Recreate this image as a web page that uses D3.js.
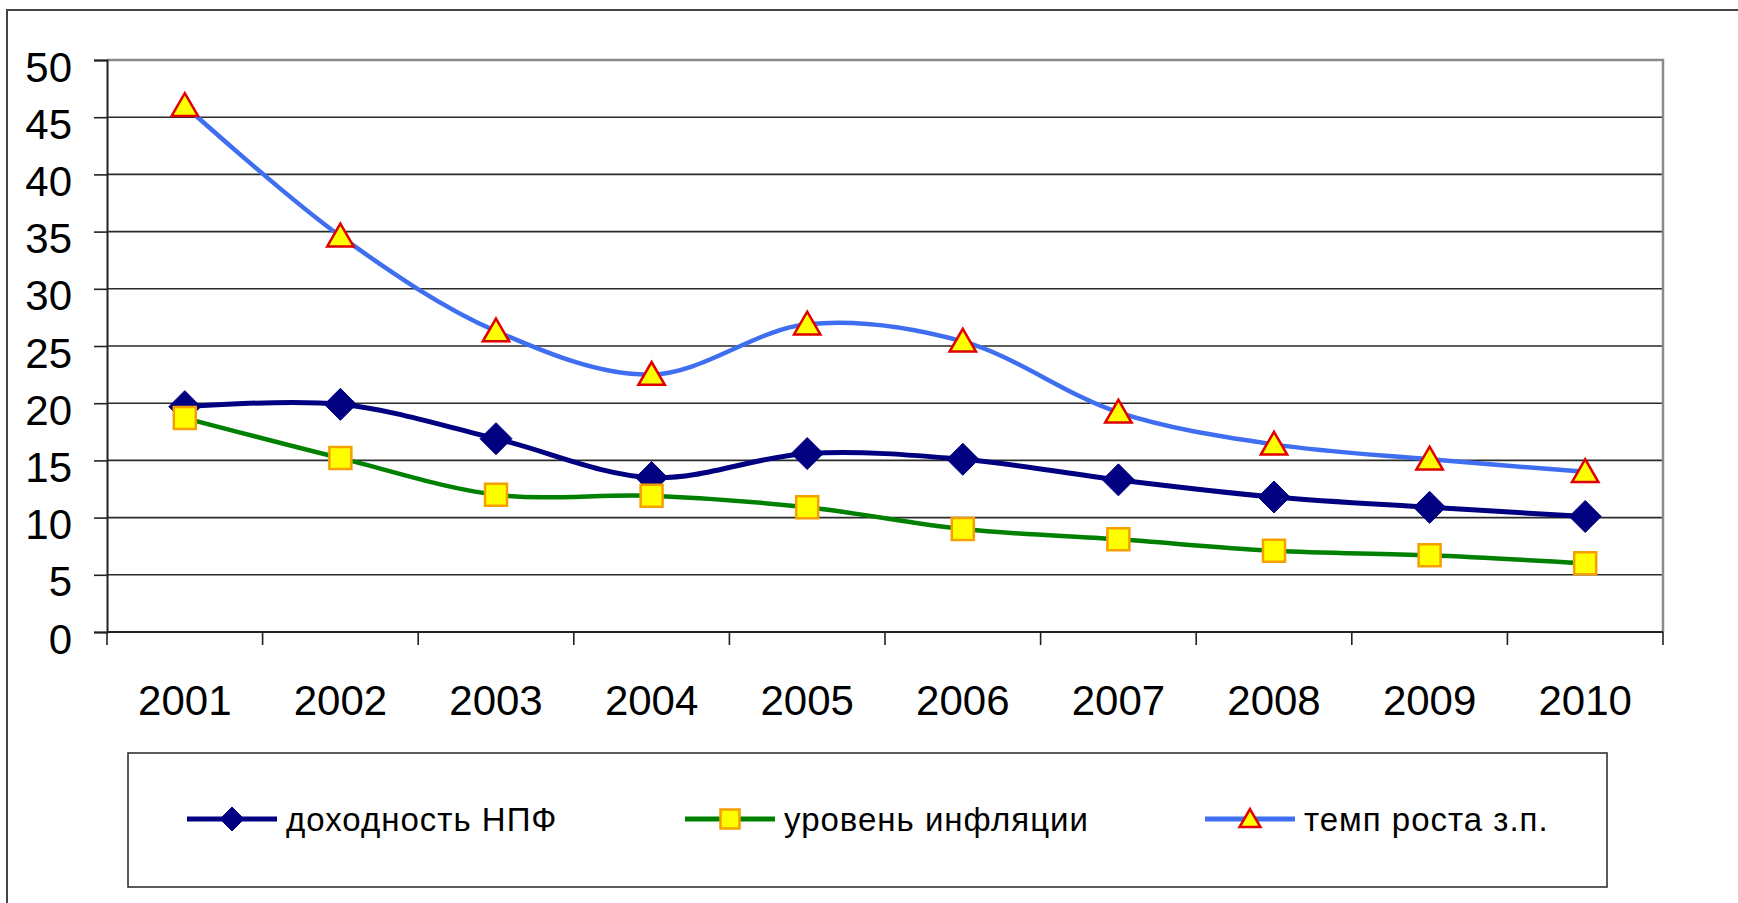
<!DOCTYPE html>
<html>
<head>
<meta charset="utf-8">
<script src="https://cdn.jsdelivr.net/npm/d3@7"></script>
<style>
  body { margin: 0; background: #fff; }
  svg { display: block; }
  .axis text { font-family: "Liberation Sans", Arial, sans-serif; fill: #000; }
</style>
</head>
<body>
<div id="chart"></div>
<script>
// values
var years = ["2001", "2002", "2003", "2004", "2005", "2006", "2007", "2008", "2009", "2010"];
var npfYield = [19.7, 19.9, 16.9, 13.5, 15.6, 15.1, 13.3, 11.8, 10.9, 10.1];
var inflation = [18.7, 15.2, 12.0, 11.9, 10.9, 9.0, 8.1, 7.1, 6.7, 6.0];
var wageGrowth = [46.0, 34.6, 26.3, 22.5, 26.9, 25.4, 19.2, 16.4, 15.1, 14.0];
var yTicks = [0, 5, 10, 15, 20, 25, 30, 35, 40, 45, 50];
var seriesNames = ["доходность НПФ", "уровень инфляции", "темп роста з.п."];

var W = 1738, H = 903;
var plot = {left: 107, right: 1663, top: 60, bottom: 632};

var svg = d3.select("#chart").append("svg")
    .attr("width", W)
    .attr("height", H);

// outer frame (runs off right / bottom edge)
svg.append("path")
    .attr("d", "M7," + (H + 5) + "V10H" + (W + 5))
    .attr("fill", "none")
    .attr("stroke", "#444")
    .attr("stroke-width", 2);

var x = d3.scaleBand().domain(years).range([plot.left, plot.right]);
var y = d3.scaleLinear().domain([0, 50]).range([plot.bottom, plot.top]);

// grid
svg.append("g")
    .selectAll("line")
    .data(yTicks.filter(function(d) { return d > 0 && d < 50; }))
    .enter().append("line")
      .attr("x1", plot.left).attr("x2", plot.right)
      .attr("y1", function(d) { return y(d); })
      .attr("y2", function(d) { return y(d); })
      .attr("stroke", "#2a2a2a")
      .attr("stroke-width", 1.6);

// plot border top / right (gray)
svg.append("path")
    .attr("d", "M" + plot.left + "," + y(50) + "H" + plot.right + "V" + plot.bottom)
    .attr("fill", "none")
    .attr("stroke", "#8a8a8a")
    .attr("stroke-width", 2.5);

// y axis
var axisLeft = d3.axisLeft(y).tickValues(yTicks).tickSize(13).tickPadding(22);
var gy = svg.append("g")
    .attr("class", "axis")
    .attr("transform", "translate(" + plot.left + ",0)")
    .call(axisLeft);
gy.select(".domain").attr("stroke", "#222").attr("stroke-width", 2);
gy.selectAll(".tick line").attr("stroke", "#222").attr("stroke-width", 1.6);
gy.selectAll("text")
    .attr("font-size", 42)
    .attr("dy", "0.5em");

// x axis: ticks on category boundaries
var gx = svg.append("g")
    .attr("class", "axis")
    .attr("transform", "translate(0," + plot.bottom + ")");
gx.append("line")
    .attr("x1", plot.left).attr("x2", plot.right)
    .attr("stroke", "#222").attr("stroke-width", 2);
gx.selectAll(".tk")
    .data(years.concat(["end"]))
    .enter().append("line")
      .attr("class", "tk")
      .attr("x1", function(d, i) { return i < years.length ? x(d) : plot.right; })
      .attr("x2", function(d, i) { return i < years.length ? x(d) : plot.right; })
      .attr("y1", 0).attr("y2", 13)
      .attr("stroke", "#222").attr("stroke-width", 1.6);
gx.selectAll(".lbl")
    .data(years)
    .enter().append("text")
      .attr("class", "lbl")
      .attr("x", function(d) { return x(d) + x.bandwidth() / 2; })
      .attr("y", 83)
      .attr("text-anchor", "middle")
      .attr("font-size", 42)
      .text(function(d) { return d; });

// series
var series = [
  {name: seriesNames[0], values: npfYield, color: "#000080", width: 5, marker: "diamond", fill: "#000080", stroke: "#000080"},
  {name: seriesNames[1], values: inflation, color: "#008000", width: 4.5, marker: "square", fill: "#ffff00", stroke: "#f5a000"},
  {name: seriesNames[2], values: wageGrowth, color: "#3f6ff0", width: 4.5, marker: "triangle", fill: "#ffff00", stroke: "#e00000"}
];

function markerPath(type, s) {
  if (type === "diamond") return "M0," + (-s) + "L" + s + ",0L0," + s + "L" + (-s) + ",0Z";
  if (type === "square") return "M" + (-s) + "," + (-s) + "H" + s + "V" + s + "H" + (-s) + "Z";
  return "M0," + (-s * 1.05) + "L" + (s * 1.1) + "," + (s * 0.85) + "H" + (-s * 1.1) + "Z";
}
var markerSize = {diamond: 16, square: 11, triangle: 12};

var line = d3.line()
    .x(function(d, i) { return x(years[i]) + x.bandwidth() / 2; })
    .y(function(d) { return y(d); })
    .curve(d3.curveCatmullRom.alpha(0.5));

series.forEach(function(s) {
  svg.append("path")
      .datum(s.values)
      .attr("d", line)
      .attr("fill", "none")
      .attr("stroke", s.color)
      .attr("stroke-width", s.width)
      .attr("stroke-linejoin", "round");
});

series.forEach(function(s) {
  svg.append("g").selectAll("path")
      .data(s.values)
      .enter().append("path")
        .attr("transform", function(d, i) {
          return "translate(" + (x(years[i]) + x.bandwidth() / 2) + "," + y(d) + ")";
        })
        .attr("d", markerPath(s.marker, markerSize[s.marker]))
        .attr("fill", s.fill)
        .attr("stroke", s.stroke)
        .attr("stroke-width", s.marker === "diamond" ? 1 : 2.5);
});

// legend
var legend = {left: 128, top: 753, right: 1607, bottom: 887, cy: 819};
svg.append("rect")
    .attr("x", legend.left).attr("y", legend.top)
    .attr("width", legend.right - legend.left)
    .attr("height", legend.bottom - legend.top)
    .attr("fill", "#fff")
    .attr("stroke", "#333")
    .attr("stroke-width", 1.6);

var legendX = [187, 685, 1205];
var lg = svg.append("g").selectAll("g")
    .data(series)
    .enter().append("g")
      .attr("transform", function(d, i) { return "translate(" + legendX[i] + "," + legend.cy + ")"; });
lg.append("line")
    .attr("x1", 0).attr("x2", 90)
    .attr("stroke", function(d) { return d.color; })
    .attr("stroke-width", 5);
lg.append("path")
    .attr("transform", "translate(45,0)")
    .attr("d", function(d) { return markerPath(d.marker, d.marker === "diamond" ? 12 : 9.5); })
    .attr("fill", function(d) { return d.fill; })
    .attr("stroke", function(d) { return d.stroke; })
    .attr("stroke-width", function(d) { return d.marker === "diamond" ? 1 : 2.5; });
lg.append("text")
    .attr("x", 99)
    .attr("y", 12)
    .attr("font-family", "'Liberation Sans', Arial, sans-serif")
    .attr("font-size", 33)
    .attr("letter-spacing", 1)
    .attr("fill", "#000")
    .text(function(d) { return d.name; });
</script>
</body>
</html>
